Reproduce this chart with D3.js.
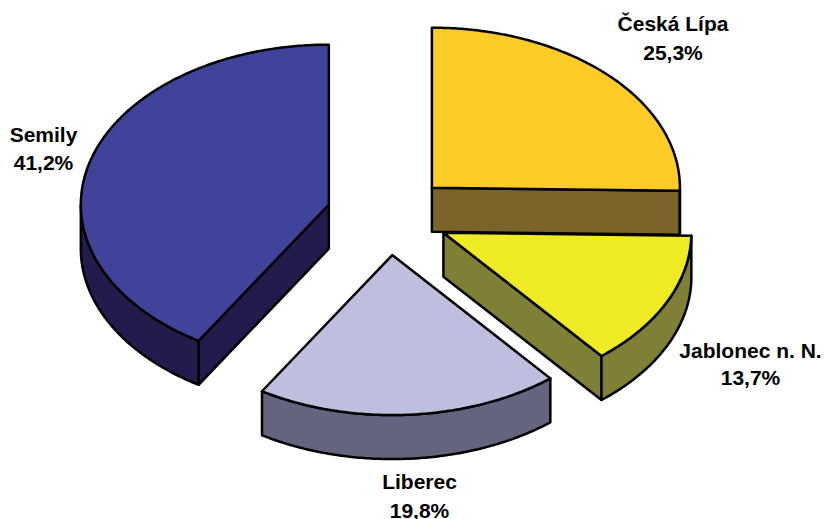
<!DOCTYPE html>
<html>
<head>
<meta charset="utf-8">
<script src="https://cdn.jsdelivr.net/npm/d3@7/dist/d3.min.js"></script>
<style>
html,body{margin:0;padding:0;background:#fff;}
svg{display:block;}
text{font-family:"Liberation Sans",Arial,sans-serif;font-weight:bold;font-size:21px;fill:#000;text-anchor:middle;}
</style>
</head>
<body>
<div id="chart"></div>
<script>
const categories = ["Česká Lípa", "Jablonec n. N.", "Liberec", "Semily"];
const shares = [25.3, 13.7, 19.8, 41.2];
const shareLabels = ["25,3%", "13,7%", "19,8%", "41,2%"];
const topColors = ["#ffcb27", "#eeea24", "#bfbedf", "#40439a"];
const sideColors = ["#7b642a", "#7f8035", "#64647f", "#231a4e"];

// layout
const W = 824, H = 519;
const center = {x: 388, y: 215.5};
const radius = {x: 248, y: 160};
const explode = 0.248;
const depth = 44;
const drawOrder = [0, 3, 1, 2];
const labelAnchors = [[673, 31], [750.5, 358], [419.5, 489], [43.5, 142]];
const labelLeading = [29, 27, 29, 28];

const svg = d3.select("#chart").append("svg").attr("width", W).attr("height", H);

const px = d3.scaleLinear().domain([-1, 1]).range([-radius.x, radius.x]);
const py = d3.scaleLinear().domain([-1, 1]).range([-radius.y, radius.y]);
const line = d3.line().x(d => d[0]).y(d => d[1]);

const arcs = d3.pie().sort(null).value(d => d)(shares);

function pt(origin, a, r = 1, dy = 0) {
  return [origin.x + px(r * Math.sin(a)), origin.y + py(-r * Math.cos(a)) + dy];
}
function arcPts(origin, a0, a1, dy = 0) {
  const n = Math.max(2, Math.ceil(Math.abs(a1 - a0) / 0.01));
  return d3.range(n + 1).map(i => pt(origin, a0 + (a1 - a0) * i / n, 1, dy));
}

const slices = arcs.map((arc, i) => {
  const mid = (arc.startAngle + arc.endAngle) / 2;
  const origin = {
    x: center.x + px(explode * Math.sin(mid)),
    y: center.y + py(-explode * Math.cos(mid))
  };
  return {arc, i, origin};
});

drawOrder.forEach(idx => {
  const {arc, i, origin} = slices[idx];
  const g = svg.append("g").attr("stroke", "#000").attr("stroke-width", 2.5).attr("stroke-linejoin", "round");
  const a0 = arc.startAngle, a1 = arc.endAngle;
  const apex = [origin.x, origin.y];
  const edgeWall = a => {
    const e = pt(origin, a);
    g.append("path").attr("fill", sideColors[i])
      .attr("d", line([apex, e, [e[0], e[1] + depth], [apex[0], apex[1] + depth]]) + "Z");
  };
  if (Math.sin(a0) < -1e-6) edgeWall(a0);
  if (Math.sin(a1) > 1e-6) edgeWall(a1);
  const f0 = Math.max(a0, Math.PI / 2), f1 = Math.min(a1, 3 * Math.PI / 2);
  if (f1 > f0) {
    const topEdge = arcPts(origin, f0, f1);
    const bottomEdge = arcPts(origin, f1, f0, depth);
    g.append("path").attr("fill", sideColors[i]).attr("d", line(topEdge.concat(bottomEdge)) + "Z");
  }
  g.append("path").attr("fill", topColors[i])
    .attr("d", line([apex].concat(arcPts(origin, a0, a1))) + "Z");
});

categories.forEach((c, i) => {
  const [x, y] = labelAnchors[i];
  svg.append("text").attr("x", x).attr("y", y).text(c);
  svg.append("text").attr("x", x).attr("y", y + labelLeading[i]).text(shareLabels[i]);
});
</script>
</body>
</html>
